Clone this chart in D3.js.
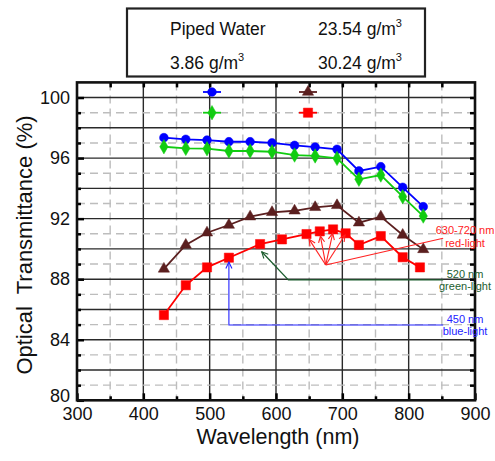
<!DOCTYPE html>
<html><head><meta charset="utf-8">
<script src="https://cdn.jsdelivr.net/npm/d3@7"></script>
<style>body{margin:0;background:#fff}svg{display:block;font-family:"Liberation Sans",Arial,sans-serif}</style>
</head><body><svg id="c" width="495" height="461"></svg>
<script>
// ---- data ----
const wlA = [431, 464, 496, 529, 561, 594, 628, 659, 692, 725, 758, 791, 822];
const pipedWater = [97.35, 97.24, 97.19, 97.08, 97.08, 97.01, 96.84, 96.73, 96.58, 95.15, 95.43, 94.07, 92.79];
const conc386 = [96.75, 96.64, 96.62, 96.47, 96.47, 96.42, 96.2, 96.14, 95.98, 94.6, 94.88, 93.45, 92.17];
const conc2354 = [88.68, 90.26, 91.07, 91.58, 92.13, 92.42, 92.52, 92.75, 92.88, 91.73, 92.13, 90.92, 89.97];
const wlB = [431, 464, 496, 529, 576, 609, 646, 666, 686, 705, 725, 758, 791, 817];
const conc3024 = [85.63, 87.6, 88.78, 89.42, 90.32, 90.63, 90.98, 91.16, 91.29, 91.03, 90.26, 90.85, 89.45, 88.78];
const xTicks = [300, 400, 500, 600, 700, 800, 900];
const yTicks = [80, 84, 88, 92, 96, 100];
const legendLabels = ["Piped Water", "23.54 g/m", "3.86 g/m", "30.24 g/m"];
// annotation anchor points (wavelength, transmittance)
const redFanOrigin = [675, 88.94];
const redFanTips = [[650, 90.63], [667, 90.85], [685.5, 91.03], [704, 90.92]];
const redLabelEnd = [852, 90.7];
const greenPath = [[578.5, 89.81], [618.6, 87.95], [852, 87.95]];
const bluePath = [[529, 89.13], [529, 84.97], [852, 84.97]];

const svg = d3.select("#c");
const x = d3.scaleLinear().domain([300, 900]).range([77, 475]);
const y = d3.scaleLinear().domain([80, 101]).range([400.3, 82.4]);
const L = 77, R = 475, T = 82.4, B = 400.3;

// grid
const g = svg.append("g");
d3.range(350, 900, 50).forEach(v => {
  const solid = v % 100 === 0;
  g.append("line").attr("x1", x(v)).attr("x2", x(v)).attr("y1", T).attr("y2", B)
    .attr("stroke", solid ? "#2a2a2a" : "#bdbdbd").attr("stroke-width", 1.4)
    .attr("stroke-dasharray", solid ? null : "8,5");
});
d3.range(81, 101, 1).forEach(v => {
  const solid = v % 2 === 0;
  g.append("line").attr("x1", L).attr("x2", R).attr("y1", y(v)).attr("y2", y(v))
    .attr("stroke", solid ? "#2a2a2a" : "#bdbdbd").attr("stroke-width", 1.4)
    .attr("stroke-dasharray", solid ? null : "8,5");
});

// axes
const tickStyle = sel => { sel.select(".domain").remove(); sel.selectAll("line").attr("stroke", "#000").attr("stroke-width", 2.5); sel.selectAll("text").attr("font-size", 18).attr("fill", "#111").attr("font-family", "Liberation Sans, Arial"); };
svg.append("g").attr("transform", `translate(0,${B})`)
  .call(d3.axisBottom(x).tickValues(xTicks).tickFormat(d3.format("d")).tickSizeInner(-7).tickSizeOuter(0).tickPadding(7)).call(tickStyle);
svg.append("g").attr("transform", `translate(0,${B})`)
  .call(d3.axisBottom(x).tickValues(d3.range(350, 900, 100)).tickFormat("").tickSizeInner(-4).tickSizeOuter(0)).call(tickStyle);
svg.append("g").attr("transform", `translate(0,${T})`)
  .call(d3.axisTop(x).tickValues(d3.range(350, 900, 50)).tickFormat("").tickSizeInner(-5).tickSizeOuter(0)).call(tickStyle);
const yAx = svg.append("g").attr("transform", `translate(${L},0)`)
  .call(d3.axisLeft(y).tickValues(yTicks).tickFormat(d3.format("d")).tickSizeInner(-7).tickSizeOuter(0).tickPadding(7)).call(tickStyle);
yAx.selectAll(".tick text").filter(d => d === 80).attr("y", -5);
svg.append("g").attr("transform", `translate(${L},0)`)
  .call(d3.axisLeft(y).tickValues(d3.range(81, 101).filter(v => v % 4)).tickFormat("").tickSizeInner(-4).tickSizeOuter(0)).call(tickStyle);
svg.append("g").attr("transform", `translate(${R},0)`)
  .call(d3.axisRight(y).tickValues(d3.range(81, 101)).tickFormat("").tickSizeInner(-5).tickSizeOuter(0)).call(tickStyle);

// frame
svg.append("rect").attr("x", L).attr("y", T).attr("width", R - L).attr("height", B - T)
  .attr("fill", "none").attr("stroke", "#111").attr("stroke-width", 2.6);

// series
const line = d3.line().x(d => x(d[0])).y(d => y(d[1]));
const series = [
  {wl: wlA, v: pipedWater, c: "#0000ff", m: "circle"},
  {wl: wlA, v: conc386, c: "#11cc11", m: "diamond"},
  {wl: wlA, v: conc2354, c: "#5b1f1f", m: "triangle"},
  {wl: wlB, v: conc3024, c: "#ff0000", m: "square"}
];
const sym = {circle: d3.symbolCircle, diamond: d3.symbolDiamond, triangle: d3.symbolTriangle, square: d3.symbolSquare};
const size = {circle: 60, diamond: 60, triangle: 55, square: 85};
function marker(gs, m, c) {
  gs.append("path").attr("d", d3.symbol().type(sym[m]).size(size[m])()).attr("fill", c).attr("stroke", c).attr("stroke-width", 0.5);
}
series.forEach(s => {
  const pts = s.wl.map((w, i) => [w, s.v[i]]);
  svg.append("path").datum(pts).attr("d", line).attr("fill", "none").attr("stroke", s.c).attr("stroke-width", 1.8);
  pts.forEach(p => {
    const gg = svg.append("g").attr("transform", `translate(${x(p[0])},${y(p[1])})`);
    marker(gg, s.m, s.c);
  });
});

// annotations
function arrowHead(gx, from, to, c) {
  const a = Math.atan2(y(to[1]) - y(from[1]), x(to[0]) - x(from[0]));
  const tx = x(to[0]), ty = y(to[1]), len = 7, sp = 0.45;
  gx.append("path").attr("d",
    `M${tx - len * Math.cos(a - sp)},${ty - len * Math.sin(a - sp)}L${tx},${ty}L${tx - len * Math.cos(a + sp)},${ty - len * Math.sin(a + sp)}`)
    .attr("fill", "none").attr("stroke", c).attr("stroke-width", 1.1);
}
const ann = svg.append("g");
const red = "#ff2222", green = "#1d5e2f", blue = "#2222ff";
redFanTips.forEach(t => {
  ann.append("path").datum([redFanOrigin, t]).attr("d", line).attr("stroke", red).attr("stroke-width", 1.1).attr("fill", "none");
  arrowHead(ann, redFanOrigin, t, red);
});
ann.append("path").datum([redFanOrigin, redLabelEnd]).attr("d", line).attr("stroke", red).attr("stroke-width", 1.1).attr("fill", "none");
ann.append("path").datum(greenPath).attr("d", line).attr("stroke", green).attr("stroke-width", 1.3).attr("fill", "none");
arrowHead(ann, greenPath[1], greenPath[0], green);
ann.append("path").datum(bluePath).attr("d", line).attr("stroke", blue).attr("stroke-width", 1.1).attr("fill", "none");
arrowHead(ann, bluePath[1], bluePath[0], blue);

const annText = [
  ["630-720 nm", 234, red], ["red-light", 247, red],
  ["520 nm", 278, green], ["green-light", 290, green],
  ["450 nm", 323, blue], ["blue-light", 335, blue]
];
annText.forEach(t => ann.append("text").attr("x", 465).attr("y", t[1]).attr("text-anchor", "middle")
  .attr("font-size", 11).attr("fill", t[2]).text(t[0]));

// in-plot legend markers
const legM = [
  {m: "circle", c: "#0000ff", px: 212, py: 92},
  {m: "triangle", c: "#5b1f1f", px: 308, py: 92},
  {m: "diamond", c: "#11cc11", px: 212, py: 112.7},
  {m: "square", c: "#ff0000", px: 308, py: 112.7}
];
legM.forEach(d => {
  svg.append("line").attr("x1", d.px - 9).attr("x2", d.px + 9).attr("y1", d.py).attr("y2", d.py).attr("stroke", d.c).attr("stroke-width", 1.8);
  marker(svg.append("g").attr("transform", `translate(${d.px},${d.py})`), d.m, d.c);
});

// legend box
svg.append("rect").attr("x", 127).attr("y", 8.5).attr("width", 298).attr("height", 68)
  .attr("fill", "#fff").attr("stroke", "#222").attr("stroke-width", 2.2);
const legPos = [[170, 35], [318, 35], [170, 69], [318, 69]];
legendLabels.forEach((t, i) => {
  const tx = svg.append("text").attr("x", legPos[i][0]).attr("y", legPos[i][1]).attr("font-size", 17.5).attr("fill", "#111").text(t);
  if (i > 0) tx.append("tspan").attr("dy", -8).attr("font-size", 11).text("3");
});

// axis titles
svg.append("text").attr("x", 278).attr("y", 444).attr("text-anchor", "middle").attr("font-size", 21.5).attr("fill", "#111").text("Wavelength (nm)");
svg.append("text").attr("transform", "translate(32,245) rotate(-90)").attr("text-anchor", "middle")
  .attr("font-size", 22).attr("fill", "#111").style("white-space", "pre").text("Optical  Transmittance (%)");
</script></body></html>
